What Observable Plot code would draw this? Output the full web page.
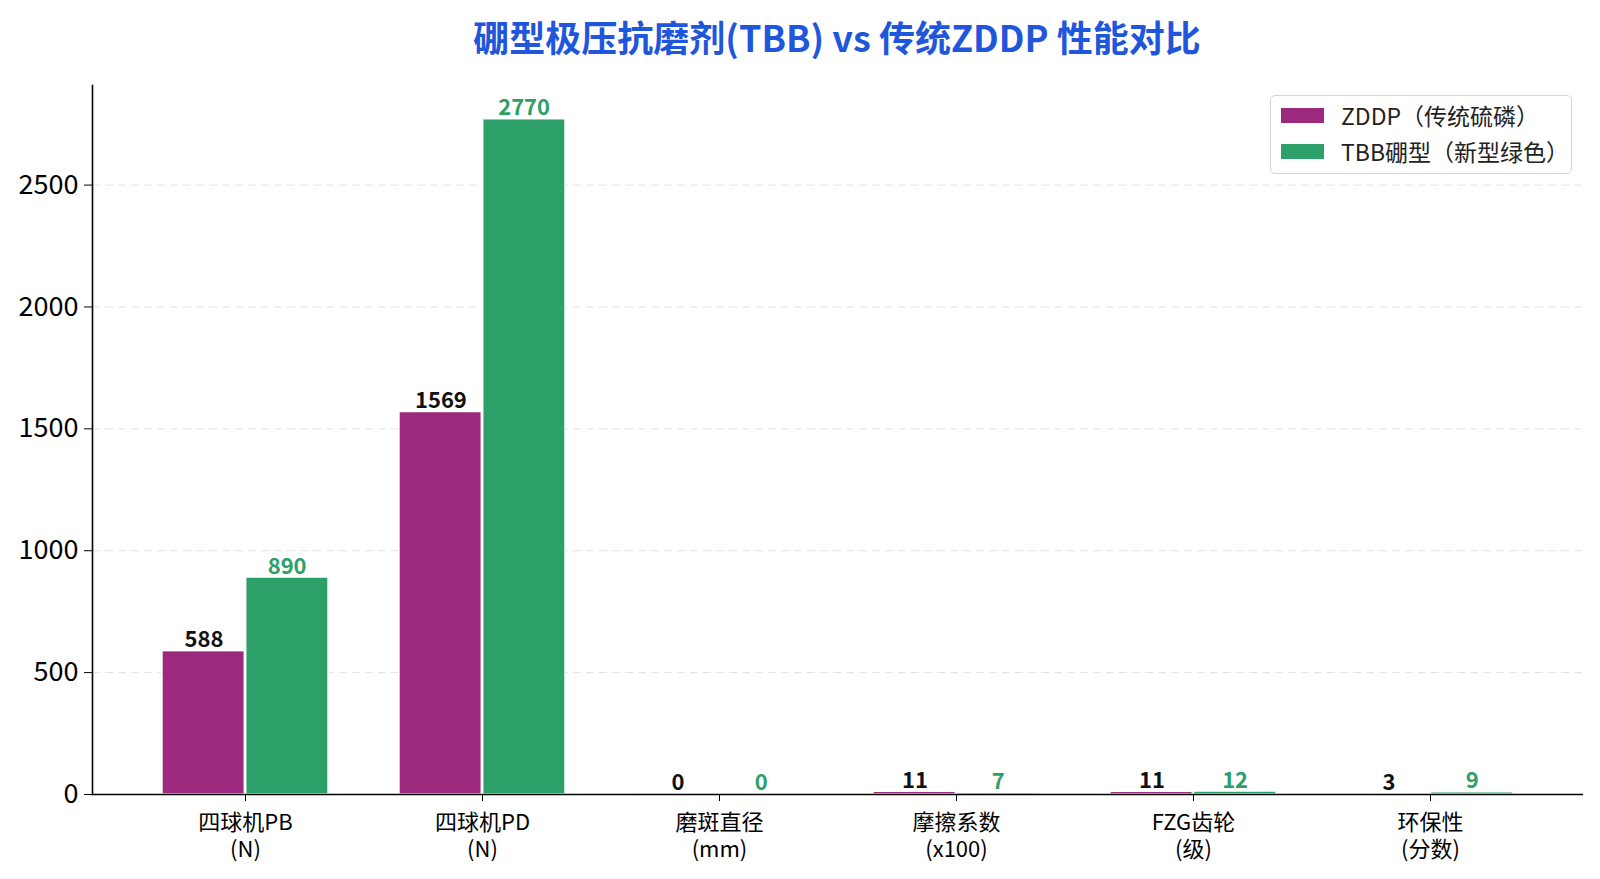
<!DOCTYPE html>
<html>
<head>
<meta charset="utf-8">
<script src="https://cdn.jsdelivr.net/npm/d3@7"></script>
<script src="https://cdn.jsdelivr.net/npm/@observablehq/plot@0.6"></script>
<style>
  html, body { margin: 0; padding: 0; background: #fff; overflow: hidden; font-family: "Noto Sans CJK SC", "Noto Sans", sans-serif; }
  #wrap { position: relative; width: 1600px; height: 879px; overflow: hidden; }
  #title { height: 72px; line-height: 72px; text-align: center; font-size: 36px; font-weight: bold; color: #1f56dc; padding-left: 74px; box-sizing: border-box; }
  #chart svg { display: block; }
  #legend { position: absolute; left: 1270px; top: 95px; width: 302px; height: 79px; border: 1.5px solid #d4d4d4; border-radius: 5px; background: rgba(255,255,255,0.85); box-sizing: border-box; font-size: 23px; color: #222; }
  .item { position: absolute; left: 10px; display: flex; align-items: center; line-height: 1; }
  .sw { width: 43px; height: 15px; margin-right: 17px; }
</style>
</head>
<body>
<div id="wrap">
  <div id="title">硼型极压抗磨剂(TBB) vs 传统ZDDP 性能对比</div>
  <div id="chart"></div>
  <div id="legend"></div>
</div>
<script>
const categories = ["四球机PB\n(N)", "四球机PD\n(N)", "磨斑直径\n(mm)", "摩擦系数\n(x100)", "FZG齿轮\n(级)", "环保性\n(分数)"];
const zddpValues = [588, 1569, 0.45, 11, 11, 3];
const tbbValues = [890, 2770, 0.32, 7, 12, 9];
const seriesNames = ["ZDDP（传统硫磷）", "TBB硼型（新型绿色）"];
const seriesColors = ["#9b2a7f", "#2ca068"];
const yTicks = [0, 500, 1000, 1500, 2000, 2500];

const zddp = categories.map((c, i) => ({cat: c, value: zddpValues[i]}));
const tbb = categories.map((c, i) => ({cat: c, value: tbbValues[i]}));

const W = 1600, H = 807, mL = 92, mR = 17, mT = 13, mB = 85;
const pIn = 0.3, pOut = 0.285;
const step = (W - mL - mR) / (categories.length - pIn + 2 * pOut);
const half = step * (1 - pIn) / 2;
const fmt = d3.format(".0f");
const yMax = d3.max(tbbValues.concat(zddpValues)) * 1.05;

const chart = Plot.plot({
  width: W, height: H,
  marginLeft: mL, marginRight: mR, marginTop: mT, marginBottom: mB,
  style: {fontFamily: "'Noto Sans CJK SC', 'Noto Sans', sans-serif", background: "#fff", color: "#000", overflow: "hidden"},
  x: {type: "band", domain: categories, paddingInner: pIn, paddingOuter: pOut, label: null},
  y: {domain: [0, yMax], label: null},
  marks: [
    Plot.gridY(yTicks, {stroke: "#d0d0d0", strokeOpacity: 0.6, strokeDasharray: "8,5", strokeWidth: 1}),
    Plot.barY(zddp, {x: "cat", y: "value", fill: seriesColors[0], insetRight: half + 0.5, stroke: "#fff", strokeWidth: 1.4}),
    Plot.barY(tbb, {x: "cat", y: "value", fill: seriesColors[1], insetLeft: half + 0.5, stroke: "#fff", strokeWidth: 1.4}),
    Plot.text(zddp, {x: "cat", y: "value", text: d => fmt(d.value), dx: -half / 2, dy: -4, lineAnchor: "bottom", fontSize: 22, fontWeight: "bold", fill: "#111"}),
    Plot.text(tbb, {x: "cat", y: "value", text: d => fmt(d.value), dx: half / 2, dy: -4, lineAnchor: "bottom", fontSize: 22, fontWeight: "bold", fill: seriesColors[1]}),
    Plot.axisY({ticks: yTicks, tickFormat: d3.format("d"), tickSize: 8, tickPadding: 6, fontSize: 27, label: null, stroke: "#000"}),
    Plot.axisX({tickSize: 7, tickPadding: 10, fontSize: 22, lineHeight: 1.2, label: null, stroke: "#000"}),
    Plot.ruleY([0], {stroke: "#000", strokeWidth: 1.6}),
    Plot.frame({anchor: "left", stroke: "#000", strokeWidth: 1.6})
  ]
});
document.getElementById("chart").appendChild(chart);

const legend = document.getElementById("legend");
seriesNames.forEach((name, i) => {
  const it = document.createElement("div");
  it.className = "item";
  it.style.top = (i === 0 ? 8 : 44) + "px";
  it.innerHTML = `<div class="sw" style="background:${seriesColors[i]}"></div><span>${name}</span>`;
  legend.appendChild(it);
});
</script>
</body>
</html>
